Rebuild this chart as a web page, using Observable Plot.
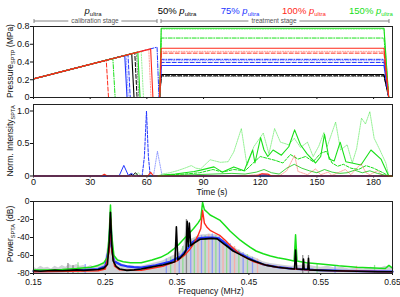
<!DOCTYPE html>
<html><head><meta charset="utf-8">
<script src="https://cdn.jsdelivr.net/npm/d3@7"></script>
<script src="https://cdn.jsdelivr.net/npm/@observablehq/plot@0.6"></script>
<style>
body{margin:0;background:#fff;font-family:"Liberation Sans",Arial,sans-serif;}
#wrap{position:relative;width:400px;height:297px;overflow:hidden;background:#fff;}
.panel{position:absolute;left:0;}
.ann{position:absolute;white-space:nowrap;font-size:9.5px;line-height:1;transform:translateX(-50%);}
.ann sub{font-size:6px;vertical-align:-1.5px;}
.ylab{position:absolute;white-space:nowrap;font-size:8.5px;line-height:1;transform:translate(-50%,-50%) rotate(-90deg);color:#111;}
.ylab sub{font-size:5.5px;vertical-align:-1.5px;}
.xlab{position:absolute;white-space:nowrap;font-size:8.5px;line-height:1;transform:translate(-50%,-50%);color:#111;}
.stage{position:absolute;white-space:nowrap;font-size:6.5px;line-height:1;color:#555;background:#fff;padding:0 3px;transform:translate(-50%,-50%);}
</style></head>
<body><div id="wrap"></div>
<script>
// ---------------- DATA ----------------
// Top panel: pressure runs (level, plateau in treatment stage, calibration drop point)
const runLevel   = ["50%","50%","50%","75%","75%","75%","75%","150%","150%","150%","100%","100%","100%"];
const runKind    = ["solid","dashed","dotted","solid","dashed","dotted","dashdot","solid","dashdot","dotted","solid","dashed","dotted"];
const runPlateau = [0.26, 0.245, 0.238, 0.36, 0.395, 0.415, 0.43, 0.78, 0.67, 0.77, 0.555, 0.50, 0.52];
const runDropT   = [52.0, 53.6, 54.5, 48.3, 50.0, 49.0, 65.4, 55.2, 42.0, 57.0, 62.0, 38.5, 61.0];
const runDropP   = [0.493, 0.502, 0.507, 0.473, 0.483, 0.477, 0.567, 0.511, 0.439, 0.521, 0.548, 0.420, 0.542];
const runZeroT   = [53.2, 54.8, 55.7, 49.5, 51.2, 50.2, 66.4, 56.4, 43.2, 58.2, 63.2, 39.7, 62.2];
const rampStart  = [0, 0.21];
const treatOn    = [66.8, 67.6];
const treatOff   = [185.5, 188.0];
const timeTicks  = [0, 30, 60, 90, 120, 150, 180];
const pressTicks = [0, 0.2, 0.4, 0.6, 0.8];

// Middle panel: normalized intensity traces [time s, value]
const intBlack = [[0,0],[50,0],[51.5,0.03],[52.5,0.01],[54,0.05],[55.5,0],[190,0]];
const intBlueDot = [[0,0],[63.5,0],[65.6,0.38],[68.1,0],[190,0]];
const intBlueSolid = [[0,0],[45.3,0],[47.8,0.163],[50.2,0.01],[52,0.04],[53.5,0],[118,0],[120,0.015],[123,0.02],[125,0],[190,0]];
const intBlueDash = [[0,0],[57.5,0],[58.7,0.3],[59.8,1.0],[60.8,0.3],[61.8,0],[190,0]];
const intGreenLight = [[53,0],[54.5,0.03],[55.5,0.05],[57,0],[66,0],[68,0.03],[72,0.05],[76,0.08],[80,0.12],[83.5,0.16],[86,0.12],[88.5,0.11],[93.5,0.25],[99,0.21],[103,0.22],[106,0.37],[110,0.73],[113,0.16],[116.6,0.45],[121.6,0.66],[124.6,0.34],[127.6,0.73],[130.7,0.52],[133,0.5],[135,0.48],[138,0.58],[141.3,0.44],[145,0.52],[148,0.3],[151,0.46],[153.7,0.67],[155.4,0.45],[159.9,0.83],[162.5,0.4],[166,0.48],[168.7,0.2],[171,0.42],[173.6,0.89],[175.7,0.8],[178,0.99],[180.3,0.58],[183,0.42],[186.5,0.2],[188,0],[190,0]];
const intGreenDash = [[66,0],[72,0.02],[80,0.03],[88,0.05],[95,0.1],[100,0.06],[106,0.1],[112,0.08],[117,0.22],[120,0.3],[124,0.27],[128,0.24],[132,0.2],[136,0.33],[140,0.26],[144,0.3],[148,0.22],[152,0.35],[155,0.38],[158,0.2],[161,0.15],[164,0.18],[168,0.12],[172,0.1],[176,0.16],[180,0.12],[185,0.05],[188,0],[190,0]];
const intGreenLow = [[66,0],[75,0.01],[85,0.02],[95,0.03],[105,0.04],[112,0.03],[118,0.06],[122,0.1],[126,0.05],[130,0.03],[134,0.12],[138,0.18],[142,0.12],[146,0.08],[150,0.05],[154,0.1],[158,0.06],[162,0.04],[166,0.05],[170,0.09],[174,0.05],[178,0.08],[182,0.04],[188,0],[190,0]];
const intGreenSolid = [[66,0],[70,0.02],[75,0.03],[80,0.05],[85,0.07],[88.5,0.09],[95.5,0.14],[100,0.06],[106,0.14],[111.5,0.08],[116,0.4],[117.2,0.2],[120.2,0.59],[122,0.4],[124,0.3],[126.8,0.4],[131.2,0.32],[135.1,0.45],[138.2,0.71],[141.3,0.48],[144.8,0.34],[149.3,0.2],[152,0.3],[154,0.64],[156.5,0.26],[159.1,0.23],[162.3,0.52],[165.3,0.22],[168.5,0.2],[173.3,0.17],[178.6,0.4],[183.9,0.26],[188,0],[190,0]];
const intRedLight = [[110,0],[118,0.02],[121,0.04],[124,0.01],[130,0],[134,0.08],[138.2,0.32],[140,0.07],[145,0.02],[149.3,0.11],[152,0.02],[156,0.06],[158,0.01],[165,0.1],[168,0.02],[173.3,0.19],[176,0.05],[178,0.02],[182,0.08],[185,0],[190,0]];
const intRedSolid = [[0,0],[36,0],[37.5,0.025],[39,0],[60.5,0],[62,0.055],[63.5,0],[118,0],[121,0.035],[124,0.03],[126,0],[190,0]];
const intTicks = [0, 0.5, 1.0];

// Bottom panel: power spectra [frequency MHz, dB]
const specBlack = [[0.15,-77],[0.16,-77.5],[0.17,-77],[0.18,-76.5],[0.19,-77],[0.20,-76.5],[0.21,-76],[0.22,-76.5],[0.23,-76],[0.24,-75.5],[0.248,-74],[0.253,-70],[0.2555,-45],[0.2572,-12],[0.259,-48],[0.261,-66],[0.265,-72],[0.27,-75],[0.28,-76.5],[0.29,-76],[0.30,-75],[0.31,-73.5],[0.32,-72],[0.33,-70.5],[0.34,-68.5],[0.347,-67],[0.349,-28],[0.351,-65],[0.355,-62],[0.36,-58],[0.3625,-54],[0.364,-22],[0.3655,-50],[0.367,-24],[0.369,-49],[0.372,-47],[0.376,-45],[0.382,-42],[0.39,-41.5],[0.398,-41],[0.406,-41.5],[0.41,-44],[0.415,-47],[0.42,-50],[0.428,-55],[0.438,-59],[0.45,-64],[0.46,-67],[0.475,-71],[0.49,-73],[0.505,-74.5],[0.5135,-75],[0.515,-54],[0.5165,-75],[0.525,-75.5],[0.526,-64],[0.527,-75.5],[0.532,-75.5],[0.533,-63],[0.534,-76],[0.55,-76.5],[0.57,-77],[0.60,-77.5],[0.63,-78],[0.65,-78]];
const specGreen = [[0.15,-76],[0.17,-76],[0.19,-75.5],[0.21,-74.5],[0.23,-73],[0.24,-71],[0.248,-68],[0.253,-62],[0.2555,-35],[0.2572,-4],[0.259,-38],[0.262,-60],[0.267,-65],[0.275,-67],[0.285,-68],[0.30,-68],[0.315,-65],[0.327,-62],[0.337,-58],[0.345,-53],[0.352,-48],[0.359,-42],[0.366,-36],[0.373,-30],[0.379,-24],[0.383,-19],[0.3855,-1],[0.388,-9],[0.392,-12],[0.396,-15],[0.401,-17],[0.41,-21],[0.417,-27],[0.424,-33],[0.431,-38],[0.438,-43],[0.445,-47],[0.452,-51],[0.46,-55],[0.47,-58],[0.48,-60.5],[0.49,-62.5],[0.50,-64],[0.513,-66],[0.515,-37],[0.517,-66],[0.53,-68],[0.55,-69.5],[0.575,-71.5],[0.60,-73],[0.625,-74],[0.64,-74.5],[0.645,-71],[0.65,-74]];
const specRed = [[0.15,-78],[0.20,-77.5],[0.24,-77],[0.25,-75],[0.2555,-55],[0.2572,-18],[0.259,-55],[0.263,-72],[0.27,-76],[0.30,-76.5],[0.33,-72],[0.35,-66],[0.36,-60],[0.367,-54],[0.373,-47],[0.379,-38],[0.383,-30],[0.3855,-10],[0.388,-24],[0.392,-29],[0.396,-32],[0.403,-35],[0.41,-38],[0.417,-43],[0.424,-49],[0.431,-54],[0.438,-59],[0.447,-63],[0.457,-67],[0.47,-70],[0.485,-72.5],[0.50,-74],[0.515,-75],[0.53,-76],[0.55,-76.5],[0.60,-77.5],[0.65,-78]];
const specBlue = [[0.15,-77.5],[0.20,-77],[0.24,-75],[0.25,-72],[0.2555,-50],[0.2572,-20],[0.259,-50],[0.262,-66],[0.266,-68],[0.272,-70.5],[0.28,-72],[0.29,-73],[0.30,-73.5],[0.32,-71],[0.34,-67],[0.355,-61],[0.365,-52],[0.372,-45],[0.38,-41],[0.39,-40],[0.40,-40],[0.408,-41],[0.415,-45],[0.425,-52],[0.44,-59],[0.455,-65],[0.47,-70],[0.49,-73],[0.51,-74.5],[0.54,-76],[0.58,-77],[0.65,-78]];
const specFuzzTop = [[0.15,-73],[0.155,-75],[0.16,-72],[0.165,-74],[0.17,-73],[0.175,-75],[0.18,-72],[0.185,-74],[0.19,-71],[0.195,-73],[0.20,-70],[0.205,-72],[0.21,-70],[0.215,-72],[0.22,-71],[0.225,-73],[0.23,-71],[0.235,-73],[0.24,-70],[0.245,-71],[0.25,-66],[0.2555,-40],[0.2572,-8],[0.259,-40],[0.262,-58],[0.266,-64],[0.27,-68],[0.275,-70],[0.28,-71],[0.29,-72],[0.30,-72],[0.31,-70],[0.32,-68],[0.33,-66],[0.34,-62],[0.35,-58],[0.355,-55],[0.36,-48],[0.363,-20],[0.366,-45],[0.37,-42],[0.375,-40],[0.38,-38],[0.385,-37],[0.39,-37],[0.395,-36],[0.40,-37],[0.405,-37],[0.41,-40],[0.415,-43],[0.42,-46],[0.43,-51],[0.44,-56],[0.45,-60],[0.46,-63],[0.47,-67],[0.48,-69],[0.49,-70],[0.50,-71],[0.51,-72],[0.52,-71],[0.53,-70],[0.54,-72],[0.55,-73],[0.56,-72],[0.57,-74],[0.58,-73],[0.59,-75],[0.60,-74],[0.61,-75],[0.62,-73],[0.63,-75],[0.64,-72],[0.65,-74]];
const streakF   = [0.198,0.205,0.212,0.222,0.335,0.341,0.347,0.353,0.358,0.363,0.369,0.374,0.379,0.384,0.389,0.394,0.399,0.404,0.409,0.414,0.419,0.424,0.43,0.436,0.442,0.448,0.455,0.462,0.525,0.533,0.545,0.57,0.6,0.625];
const streakTop = [-69,-71,-68,-70,-64,-62,-57,-58,-50,-20,-44,-42,-40,-38,-38,-37,-36,-38,-39,-42,-45,-47,-50,-54,-57,-59,-62,-64,-60,-60,-70,-72,-72,-71];
const streakSet = ["k","k","g","b","b","g","p","b","g","k","b","g","p","b","g","p","b","g","b","p","g","b","p","g","b","g","b","p","k","k","g","b","p","g"];
const specTicksX = [0.15, 0.25, 0.35, 0.45, 0.55, 0.65];
const specTicksY = [0, -20, -40, -60, -80];

// ---------------- STYLES ----------------
const levelColor = {"50%":"#000000","75%":"#2236ff","100%":"#ff2a1a","150%":"#18e018"};
const dashOf = {solid:null, dashed:"4,2", dotted:"1.2,1.4", dashdot:"4,1.5,1,1.5"};
const streakColor = {k:"#777777", b:"#7d8dff", g:"#7fe07f", p:"#ffa59c"};
const font = "Liberation Sans, Arial, sans-serif";

const wrap = document.getElementById("wrap");
function place(el, topPx){ el.classList.add("panel"); el.style.top = topPx + "px"; wrap.appendChild(el); }
const rows = (pairs) => pairs.map(([a, b]) => ({a, b}));
const fmt1 = d => d === 0 ? "0" : d.toFixed(1);

// ---------------- TOP PANEL ----------------
const topMarks = [];
runLevel.forEach((lvl, i) => {
  const pts = [
    rampStart,
    [runDropT[i], runDropP[i]],
    [runZeroT[i], 0],
    [treatOn[0], 0],
    [treatOn[1], runPlateau[i]],
    [treatOff[0], runPlateau[i]],
    [treatOff[1], 0]
  ];
  const kind = runKind[i];
  topMarks.push(Plot.line(rows(pts), {
    x: "a", y: "b", stroke: levelColor[lvl],
    strokeWidth: kind === "solid" ? 1.1 : 1,
    strokeOpacity: kind === "dotted" ? 0.45 : 1,
    strokeDasharray: dashOf[kind]
  }));
});
const topPlot = Plot.plot({
  width: 400, height: 100, marginLeft: 33, marginRight: 8, marginTop: 26, marginBottom: 3,
  x: {domain: [0, 190]}, y: {domain: [0, 0.8]},
  style: {fontFamily: font, fontSize: "9px", color: "#111", background: "transparent", overflow: "visible"},
  marks: [
    Plot.axisY({ticks: pressTicks, tickFormat: fmt1, tickSize: 3, tickPadding: 1, label: null, fontSize: 9}),
    Plot.axisX({ticks: timeTicks, tickFormat: () => "", tickSize: 2, label: null}),
    ...topMarks,
    Plot.frame({stroke: "#222"})
  ]
});
place(topPlot, 0);

// ---------------- MIDDLE PANEL ----------------
const L = (d, stroke, opts = {}) => Plot.line(rows(d), {x: "a", y: "b", stroke, strokeWidth: 1, ...opts});
const midPlot = Plot.plot({
  width: 400, height: 100, marginLeft: 33, marginRight: 8, marginTop: 4, marginBottom: 24.5,
  x: {domain: [0, 190]}, y: {domain: [0, 1.1]},
  style: {fontFamily: font, fontSize: "9px", color: "#111", background: "transparent", overflow: "visible"},
  marks: [
    Plot.axisY({ticks: intTicks, tickFormat: fmt1, tickSize: 3, tickPadding: 1, label: null, fontSize: 9}),
    Plot.axisX({ticks: timeTicks, tickSize: 2, tickPadding: 1, label: null, fontSize: 9}),
    L(intBlack, "#000"),
    L(intBlueDot, "#2236ff", {strokeOpacity: 0.45, strokeDasharray: "1.2,1.2"}),
    L(intBlueSolid, "#2236ff"),
    L(intBlueDash, "#2236ff", {strokeDasharray: "3,1.5"}),
    L(intGreenLight, "#18e018", {strokeOpacity: 0.45, strokeDasharray: "1.5,1"}),
    L(intGreenDash, "#18e018", {strokeDasharray: "3,1.5"}),
    L(intGreenLow, "#14c814", {strokeOpacity: 0.8}),
    L(intGreenSolid, "#18e018", {strokeWidth: 1.1}),
    L(intRedLight, "#ff2a1a", {strokeOpacity: 0.4, strokeDasharray: "1.5,1"}),
    L(intRedSolid, "#ff2a1a", {strokeWidth: 1.2}),
    Plot.frame({stroke: "#222"})
  ]
});
place(midPlot, 100);

// ---------------- BOTTOM PANEL ----------------
const streaks = streakF.map((f, i) => ({f, top: streakTop[i], s: streakSet[i]}));
const botPlot = Plot.plot({
  width: 400, height: 100, marginLeft: 33, marginRight: 8, marginTop: 4, marginBottom: 24,
  x: {domain: [0.15, 0.65]}, y: {domain: [-80, 0]},
  style: {fontFamily: font, fontSize: "9px", color: "#111", background: "transparent", overflow: "visible"},
  marks: [
    Plot.axisY({ticks: specTicksY, tickSize: 3, tickPadding: 1, label: null, fontSize: 8.5, tickFormat: d => d === 0 ? "0" : "-" + Math.abs(d)}),
    Plot.axisX({ticks: specTicksX, tickFormat: d => d.toFixed(2), tickSize: 2, tickPadding: 3, label: null, fontSize: 8.5}),
    Plot.areaY(rows(specFuzzTop), {x: "a", y1: -80, y2: "b", fill: "#8a8f9a", fillOpacity: 0.4}),
    Plot.ruleX(streaks, {x: "f", y1: -80, y2: "top", stroke: d => streakColor[d.s], strokeWidth: 1.3, strokeOpacity: 0.8}),
    Plot.line(rows(specBlue), {x: "a", y: "b", stroke: "#2236ff", strokeWidth: 2.2}),
    Plot.line(rows(specGreen), {x: "a", y: "b", stroke: "#18e018", strokeWidth: 1.5}),
    Plot.line(rows(specRed), {x: "a", y: "b", stroke: "#ff2a1a", strokeWidth: 1.4}),
    Plot.line(rows(specBlack), {x: "a", y: "b", stroke: "#000", strokeWidth: 1.6}),
    Plot.frame({stroke: "#222"})
  ]
});
place(botPlot, 197);

// ---------------- ANNOTATIONS ----------------
function addHTML(cls, html, left, topPx, color) {
  const d = document.createElement("div");
  d.className = cls; d.innerHTML = html;
  d.style.left = left + "px"; d.style.top = topPx + "px";
  if (color) d.style.color = color;
  wrap.appendChild(d);
}
const pu = "<i>p</i><sub>ultra</sub>";
addHTML("ann", pu, 93, 6, "#111");
addHTML("ann", "50% " + pu, 177, 6, levelColor["50%"]);
addHTML("ann", "75% " + pu, 240, 6, levelColor["75%"]);
addHTML("ann", "100% " + pu, 304, 6, levelColor["100%"]);
addHTML("ann", "150% " + pu, 371, 6, levelColor["150%"]);

// stage brackets
const ns = "http://www.w3.org/2000/svg";
const br = document.createElementNS(ns, "svg");
br.setAttribute("width", 400); br.setAttribute("height", 30);
br.style.position = "absolute"; br.style.left = "0"; br.style.top = "0";
[[34, 157], [161, 389]].forEach(([x1, x2]) => {
  ["M" + x1 + ",21H" + x2, "M" + x1 + ",19V23", "M" + x2 + ",19V23"].forEach(dd => {
    const p = document.createElementNS(ns, "path");
    p.setAttribute("d", dd); p.setAttribute("stroke", "#777"); p.setAttribute("stroke-width", "0.9"); p.setAttribute("fill", "none");
    br.appendChild(p);
  });
});
wrap.appendChild(br);
addHTML("stage", "calibration stage", 95, 21);
addHTML("stage", "treatment stage", 274, 21);

// axis titles
addHTML("ylab", "Pressure<sub>SPTP</sub> (MPa)", 11, 61);
addHTML("ylab", "Norm. Intensity<sub>SPTA</sub>", 11, 141);
addHTML("ylab", "Power<sub>SPTA</sub> (dB)", 11, 234);
addHTML("xlab", "Time (s)", 212, 192);
addHTML("xlab", "Frequency (MHz)", 211, 291);
</script>
</body></html>
